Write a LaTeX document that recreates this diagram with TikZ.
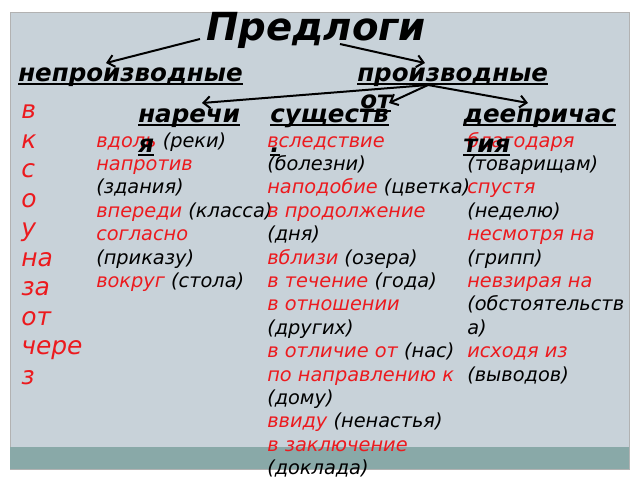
\documentclass[tikz,border=0pt]{standalone}
\usepackage{fontspec}
\setmainfont{DejaVu Sans}
\usetikzlibrary{arrows.meta}
\definecolor{slidebg}{HTML}{C8D2D9}
\definecolor{stripe}{HTML}{89A9A8}
\definecolor{prepred}{HTML}{EC1A1E}
\newcommand\rw[1]{\textcolor{prepred}{#1}}
\newcommand\undl[1]{\setbox0\hbox{#1}\rlap{\rule[-3pt]{\wd0}{1.3pt}}\box0}

\begin{document}
\begin{tikzpicture}[x=0.75pt,y=-0.75pt,
    arr/.style={line width=1.5pt,-{Straight Barb[length=5pt,width=9pt]}},
    head/.style={anchor=base west,inner sep=0,font=\fontsize{18.4}{20}\selectfont\bfseries\itshape},
    letter/.style={anchor=base west,inner sep=0,text=prepred,font=\fontsize{18.7}{20}\selectfont\itshape},
    item/.style={anchor=base west,inner sep=0,font=\fontsize{14.5}{16}\selectfont\itshape}]
  \useasboundingbox (0,0) rectangle (640,480);
  % slide
  \fill[slidebg,draw=gray!60] (10,12) rectangle (629,469);
  \fill[stripe] (10,447) rectangle (629,469);
  % simple prepositions
  \foreach \w [count=\i] in {в,к,с,о,у,на,за,от,чере,з}
    \node[letter] (simple\i) at (21,{118.5+(\i-1)*29.5}) {\w};
  % from adverbs
  \foreach \w [count=\i] in {{\rw{вдоль} (реки)},{\rw{напротив}},{(здания)},{\rw{впереди} (класса)},
      {\rw{согласно}},{(приказу)},{\rw{вокруг} (стола)}}
    \node[item] (adv\i) at (96,{147+(\i-1)*23.4}) {\w};
  % from nouns
  \foreach \w [count=\i] in {{\rw{вследствие}},{(болезни)},{\rw{наподобие} (цветка)},{\rw{в продолжение}},
      {(дня)},{\rw{вблизи} (озера)},{\rw{в течение} (года)},{\rw{в отношении}},{(других)},
      {\rw{в отличие от} (нас)},{\rw{по направлению к}},{(дому)},{\rw{ввиду} (ненастья)},
      {\rw{в заключение}},{(доклада)}}
    \node[item] (noun\i) at (267,{147+(\i-1)*23.4}) {\w};
  % from gerunds
  \foreach \w [count=\i] in {{\rw{благодаря}},{(товарищам)},{\rw{спустя}},{(неделю)},{\rw{несмотря на}},
      {(грипп)},{\rw{невзирая на}},{(обстоятельств},{а)},{\rw{исходя из}},{(выводов)}}
    \node[item] (ger\i) at (467,{147+(\i-1)*23.4}) {\w};
  % headings
  \node[head,font=\fontsize{29}{32}\selectfont\bfseries\itshape] (title) at (206,40) {Предлоги};
  \node[head] (nonderiv) at (18,81) {\undl{непроизводные}};
  \node[head] (deriv) at (357,81) {\undl{производные}};
  \node[head] (derivb) at (360,108) {\undl{от}};
  \node[head] (adverb) at (138,122) {\undl{наречи}};
  \node[head] (adverbb) at (138,152) {\undl{я}};
  \node[head] (noun) at (270,122) {\undl{существ}};
  \node[head] (nounb) at (270,152) {\undl{.}};
  \node[head] (gerund) at (463,122) {\undl{деепричас}};
  \node[head] (gerundb) at (463,152) {\undl{тия}};
  % arrows
  \draw[arr] ([shift={(-6,-1)}]title.base west) -- ([shift={(88,-18)}]nonderiv.base west);
  \draw[arr] ([shift={(134,4)}]title.base west) -- ([shift={(68,-18)}]deriv.base west);
  \coordinate (hub) at ([shift={(71,4)}]deriv.base west);
  \draw[arr] (hub) -- ([shift={(64,-19)}]adverb.base west);
  \draw[arr] (hub) -- ([shift={(119,-19)}]noun.base west);
  \draw[arr] (hub) -- ([shift={(65,-19)}]gerund.base west);
\end{tikzpicture}
\end{document}
